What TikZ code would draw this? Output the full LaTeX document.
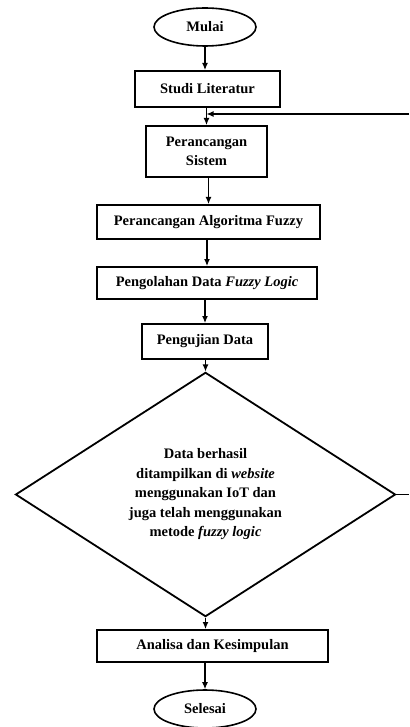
\documentclass[tikz,border=0pt]{standalone}
\usepackage{fontspec}
\setmainfont{Liberation Serif}
\usetikzlibrary{arrows.meta, shapes.geometric, positioning}
\tikzset{
    %default line width for connectors
    every picture/.style={line width=1.2pt},
    txt/.style={
        font=\bfseries\fontsize{14.5}{19.5}\selectfont,
        align=center,
        inner sep=0pt,
    },
    proc-box/.style={
        txt,
        draw,
        line width=2pt,
    },
    term-box/.style={
        txt,
        draw,
        ellipse,
        line width=1.6pt,
        minimum width=102pt,
        minimum height=38pt,
    },
    dec-box/.style={
        txt,
        draw,
        diamond,
        line width=1.8pt,
        minimum width=380pt,
        minimum height=217pt,
    },
    flow/.style={
        -{Latex[length=7pt,width=6pt]},
    }
}

\begin{document}
\begin{tikzpicture}[x=1pt,y=-1pt]
\useasboundingbox (0,0) rectangle (409,727);

% Terminals
\node[term-box] (mulai) at (205,27) {Mulai};
\node[term-box] (selesai) at (205,709) {Selesai};

% Process boxes
\node[proc-box, minimum width=145pt, minimum height=36pt] (studi) at (207.5,89) {Studi Literatur};
\node[proc-box, minimum width=121pt, minimum height=51pt] (sistem) at (206.5,151.5) {Perancangan\\Sistem};
\node[proc-box, minimum width=223pt, minimum height=34pt] (algo) at (208.5,222) {Perancangan Algoritma Fuzzy};
\node[proc-box, minimum width=220pt, minimum height=32pt] (olah) at (207,283) {Pengolahan Data \textit{Fuzzy Logic}};
\node[proc-box, minimum width=126pt, minimum height=35pt] (uji) at (205,341.5) {Pengujian Data};

% Decision
\node[dec-box] (cek) at (205.5,494.5) {Data berhasil\\ditampilkan di \textit{website}\\menggunakan IoT dan\\juga telah menggunakan\\metode \textit{fuzzy logic}};

\node[proc-box, minimum width=231pt, minimum height=32pt] (analisa) at (212.5,646) {Analisa dan Kesimpulan};

% Connectors
\draw[flow] (mulai.south) -- (mulai.south |- studi.north);
\draw[flow] (studi.south -| sistem.north) -- (sistem.north);
\draw[flow] (sistem.south -| algo.north) -- (algo.north);
\draw[flow] (algo.south -| olah.north) -- (olah.north);
\draw[flow] (olah.south -| uji.north) -- (uji.north);
\draw[flow] (uji.south -| cek.north) -- (cek.north);
\draw[flow] (cek.south) -- (cek.south |- analisa.north);
\draw[flow] (analisa.south -| selesai.north) -- (selesai.north);

% Feedback (cut off at the right edge)
\coordinate (fb-out) at (409,494.5);
\coordinate (fb-in) at (409,114);
\draw (cek.east) -- (fb-out);
\draw[flow] (fb-in) -- (fb-in -| sistem.north);

\end{tikzpicture}
\end{document}
